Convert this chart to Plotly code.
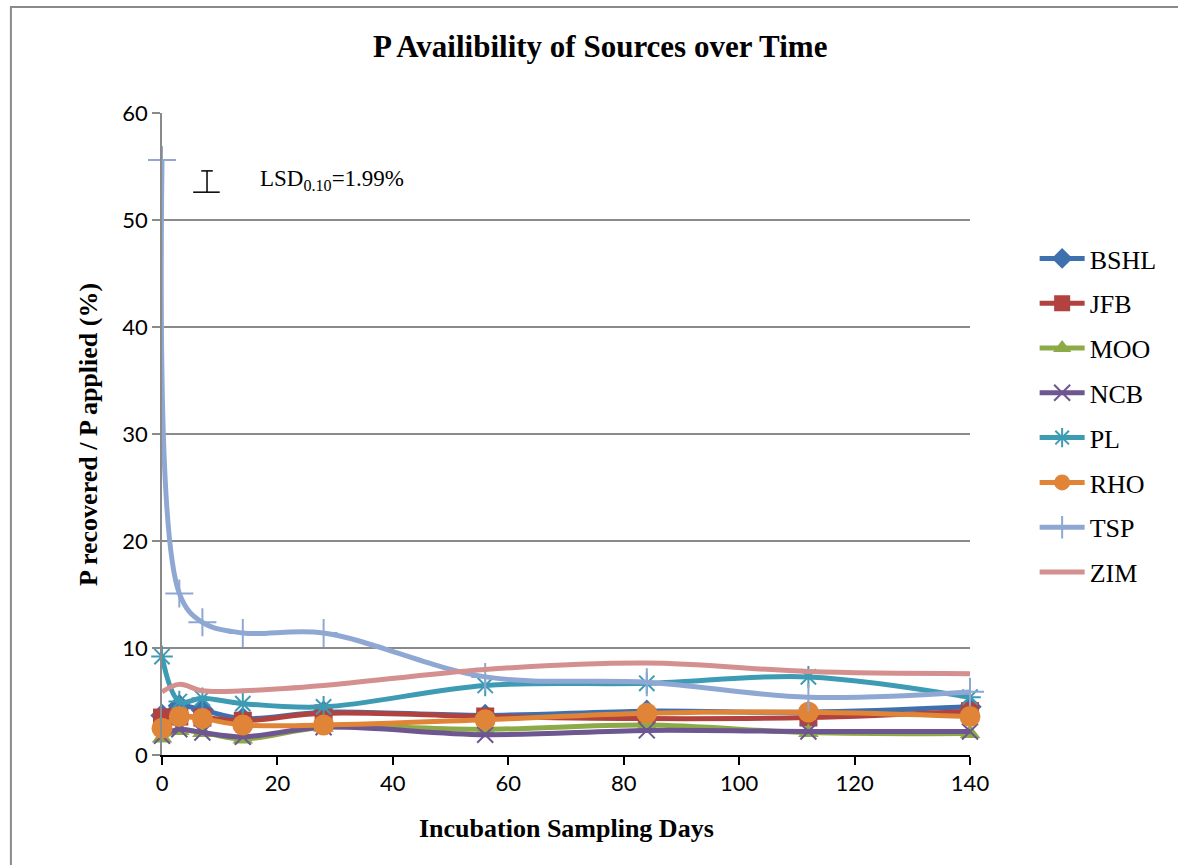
import plotly.graph_objects as go

days = [0, 3, 7, 14, 28, 56, 84, 112, 140]

series_names = ["BSHL", "JFB", "MOO", "NCB", "PL", "RHO", "TSP", "ZIM"]
BSHL = [3.7, 4.6, 4.2, 3.4, 4.0, 3.7, 4.1, 4.0, 4.5]
JFB = [3.5, 3.6, 3.5, 3.2, 3.9, 3.6, 3.4, 3.5, 4.1]
MOO = [1.6, 2.3, 2.1, 1.5, 2.6, 2.4, 2.8, 2.1, 2.0]
NCB = [1.8, 2.4, 2.1, 1.7, 2.6, 1.9, 2.3, 2.2, 2.2]
PL = [9.2, 5.0, 5.3, 4.8, 4.5, 6.5, 6.7, 7.3, 5.4]
RHO = [2.5, 3.6, 3.4, 2.8, 2.8, 3.3, 3.9, 4.0, 3.6]
TSP = [55.6, 15.1, 12.4, 11.4, 11.4, 7.3, 6.8, 5.4, 5.9]
ZIM = [5.9, 6.6, 6.0, 6.0, 6.5, 8.0, 8.6, 7.8, 7.6]
values = [BSHL, JFB, MOO, NCB, PL, RHO, TSP, ZIM]

line_colors = ["#3F70AE", "#B1423F", "#8CAB48", "#6E5690", "#3E9BB4", "#E08537", "#8FA8D3", "#D48F8F"]
marker_symbols = ["diamond", "square", "triangle-up", "x-thin-open", "asterisk-open", "circle", "cross-thin-open", None]
marker_sizes = [18, 18, 18, 16, 18, 21, 20, 0]

lsd_label = "LSD<sub>0.10</sub>=1.99%"
lsd_value = 1.99

fig = go.Figure()
for name, vals, col, sym, ms in zip(series_names, values, line_colors, marker_symbols, marker_sizes):
    if sym is None:
        fig.add_trace(go.Scatter(x=days, y=vals, name=name, mode="lines",
                                 line=dict(color=col, width=5, shape="spline"),
                                 cliponaxis=False, legendgroup=name))
    else:
        open_sym = sym.endswith("open")
        fig.add_trace(go.Scatter(
            x=days, y=vals, name=name, mode="lines+markers",
            line=dict(color=col, width=5, shape="spline"),
            marker=dict(symbol=sym, size=ms, color=col,
                        line=dict(color=col, width=2 if open_sym else 0)),
            cliponaxis=False, legendgroup=name))

# LSD bar (data coords)
lsd_x = 7.8
lsd_base = 52.6
shape_line = dict(color="black", width=1.5)
fig.add_shape(type="line", x0=lsd_x, x1=lsd_x, y0=lsd_base, y1=lsd_base + lsd_value, line=shape_line)
fig.add_shape(type="line", x0=lsd_x - 1.0, x1=lsd_x + 1.0, y0=lsd_base + lsd_value, y1=lsd_base + lsd_value, line=shape_line)
fig.add_shape(type="line", x0=lsd_x - 2.4, x1=lsd_x + 2.2, y0=lsd_base, y1=lsd_base, line=shape_line)
fig.add_annotation(x=16.6, y=53.7, xref="x", yref="y", text=lsd_label, showarrow=False,
                   xanchor="left", yanchor="middle",
                   font=dict(family="Liberation Serif", size=23, color="black"))

# outer chart border
fig.add_shape(type="rect", xref="paper", yref="paper", x0=-0.187, x1=1.27, y0=-0.2, y1=1.165,
              line=dict(color="#8A8A8A", width=2), fillcolor="rgba(0,0,0,0)", layer="below")

# titles
fig.add_annotation(x=0.542, y=1.103, xref="paper", yref="paper", showarrow=False,
                   text="P Availibility of Sources over Time", xanchor="center", yanchor="middle",
                   font=dict(family="Liberation Serif", size=31, color="black", weight="bold"))
fig.add_annotation(x=0.5, y=-0.115, xref="paper", yref="paper", showarrow=False,
                   text="Incubation Sampling Days", xanchor="center", yanchor="middle",
                   font=dict(family="Liberation Serif", size=26, color="black", weight="bold"))
fig.add_annotation(x=-0.0916, y=0.5, xref="paper", yref="paper", showarrow=False,
                   text="P recovered / P applied (%)", textangle=-90, xanchor="center", yanchor="middle",
                   font=dict(family="Liberation Serif", size=26, color="black", weight="bold"))

fig.update_xaxes(range=[0, 140], tickvals=[0, 20, 40, 60, 80, 100, 120, 140],
                 showgrid=False, zeroline=False, showline=True, linecolor="black", linewidth=1.5,
                 ticks="outside", ticklen=8, tickcolor="black", tickwidth=1.5,
                 tickfont=dict(family="Lato", size=22, color="black"))
fig.update_yaxes(range=[0, 60], tickvals=[0, 10, 20, 30, 40, 50, 60],
                 showgrid=True, gridcolor="#8A8A8A", gridwidth=1.5, zeroline=False,
                 showline=True, linecolor="#8A8A8A", linewidth=1.5,
                 ticks="outside", ticklen=8, tickcolor="#8A8A8A", tickwidth=1.5,
                 tickfont=dict(family="Lato", size=22, color="black"))

fig.update_layout(
    width=1178, height=865,
    margin=dict(l=162, r=208, t=113, b=110),
    plot_bgcolor="white", paper_bgcolor="white",
    showlegend=True,
    legend=dict(x=1.08, y=0.81, xanchor="left", yanchor="top",
                font=dict(family="Liberation Serif", size=26, color="black"),
                tracegroupgap=8, bgcolor="rgba(0,0,0,0)", itemwidth=45),
)

fig.write_html("out.html")
